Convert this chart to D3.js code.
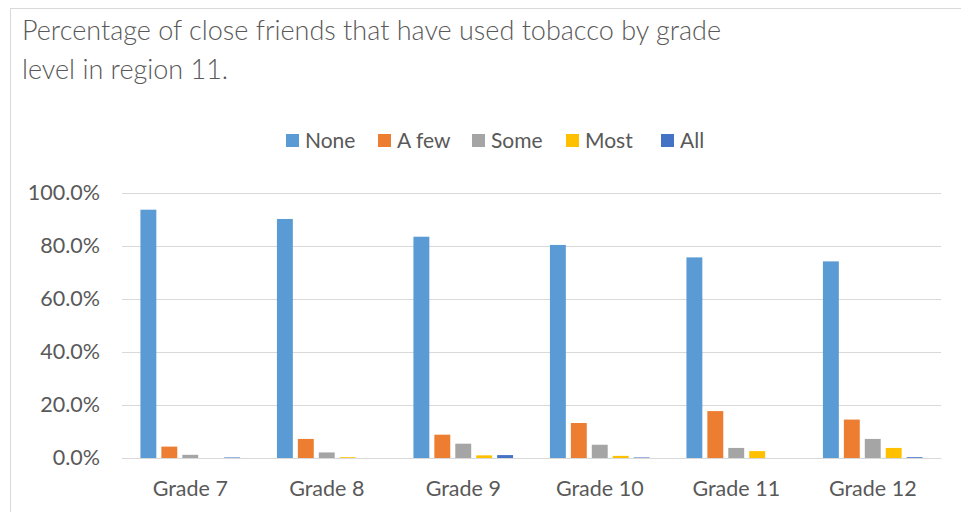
<!DOCTYPE html>
<html>
<head>
<meta charset="utf-8">
<script src="https://cdn.jsdelivr.net/npm/d3@7/dist/d3.min.js"></script>
<style>
  html, body { margin: 0; padding: 0; background: #ffffff; }
  svg { display: block; }
</style>
</head>
<body>
<svg id="chart" width="961" height="512"></svg>
<script>
// Grade levels along the x axis
const grades = ["Grade 7", "Grade 8", "Grade 9", "Grade 10", "Grade 11", "Grade 12"];

// Share of students by how many close friends have used tobacco (percent)
const seriesNames = ["None", "A few", "Some", "Most", "All"];
const none  = [93.7, 90.2, 83.5, 80.4, 75.7, 74.2];
const aFew  = [4.3, 7.2, 8.8, 13.2, 17.7, 14.5];
const some  = [1.2, 2.1, 5.4, 5.0, 3.8, 7.2];
const most  = [0.0, 0.3, 1.0, 0.8, 2.6, 3.8];
const all   = [0.2, 0.0, 1.1, 0.2, 0.0, 0.3];
const seriesValues = [none, aFew, some, most, all];

const yTicks = [0, 20, 40, 60, 80, 100];

const colors = ["#5B9BD5", "#ED7D31", "#A5A5A5", "#FFC000", "#4472C4"];
const textColor = "#595959";
const font = "Lato, 'Open Sans', sans-serif";

const svg = d3.select("#chart");

// chart frame
svg.append("rect")
  .attr("x", 10.5).attr("y", 8.5)
  .attr("width", 970).attr("height", 520)
  .attr("fill", "#ffffff")
  .attr("stroke", "#D9D9D9")
  .attr("stroke-width", 1);

// title
const title = svg.append("text")
  .attr("fill", textColor)
  .style("font-family", font)
  .style("font-weight", 300)
  .style("font-size", "27px");
title.append("tspan").attr("x", 22).attr("y", 40)
  .text("Percentage of close friends that have used tobacco by grade");
title.append("tspan").attr("x", 22).attr("y", 79)
  .text("level in region 11.");

const margin = { left: 122, right: 941, top: 193, bottom: 458 };

const x0 = d3.scaleBand()
  .domain(grades)
  .range([margin.left, margin.right])
  .paddingInner(0.27)
  .paddingOuter(0.135);

const x1 = d3.scaleBand()
  .domain(seriesNames)
  .range([0, x0.bandwidth()])
  .paddingInner(0.24)
  .paddingOuter(0);

const y = d3.scaleLinear()
  .domain([0, 100])
  .range([margin.bottom, margin.top]);

// gridlines
const yAxis = d3.axisLeft(y)
  .tickValues(yTicks)
  .tickSize(-(margin.right - margin.left))
  .tickPadding(22)
  .tickFormat(d => d.toFixed(1) + "%");

const yG = svg.append("g")
  .attr("transform", `translate(${margin.left},0)`)
  .call(yAxis);
yG.select(".domain").remove();
yG.selectAll(".tick line").attr("stroke", "#D9D9D9").attr("stroke-width", 1);
yG.selectAll(".tick text")
  .attr("fill", textColor)
  .style("font-family", font)
  .style("font-size", "21.5px");

// bars
const groups = svg.append("g").selectAll("g")
  .data(grades)
  .join("g")
  .attr("transform", d => `translate(${x0(d)},0)`);

groups.selectAll("rect")
  .data((g, gi) => seriesNames.map((s, si) => ({ s, si, v: seriesValues[si][gi] })))
  .join("rect")
  .attr("x", d => x1(d.s))
  .attr("width", x1.bandwidth())
  .attr("y", d => y(d.v))
  .attr("height", d => y(0) - y(d.v))
  .attr("fill", d => colors[d.si]);

// x axis
const xAxis = d3.axisBottom(x0).tickSize(0).tickPadding(23);
const xG = svg.append("g")
  .attr("transform", `translate(0,${margin.bottom})`)
  .call(xAxis);
xG.select(".domain").attr("stroke", "#D9D9D9").attr("stroke-width", 1);
xG.selectAll(".tick text")
  .attr("fill", textColor)
  .style("font-family", font)
  .style("font-size", "21.5px");

// legend
const legendX = [286, 378, 472, 566, 661];
const legend = svg.append("g").selectAll("g")
  .data(seriesNames)
  .join("g")
  .attr("transform", (d, i) => `translate(${legendX[i]},134)`);
legend.append("rect")
  .attr("width", 13).attr("height", 13)
  .attr("fill", (d, i) => colors[i]);
legend.append("text")
  .attr("x", 19).attr("y", 14)
  .attr("fill", textColor)
  .style("font-family", font)
  .style("font-size", "21px")
  .text(d => d);
</script>
</body>
</html>
